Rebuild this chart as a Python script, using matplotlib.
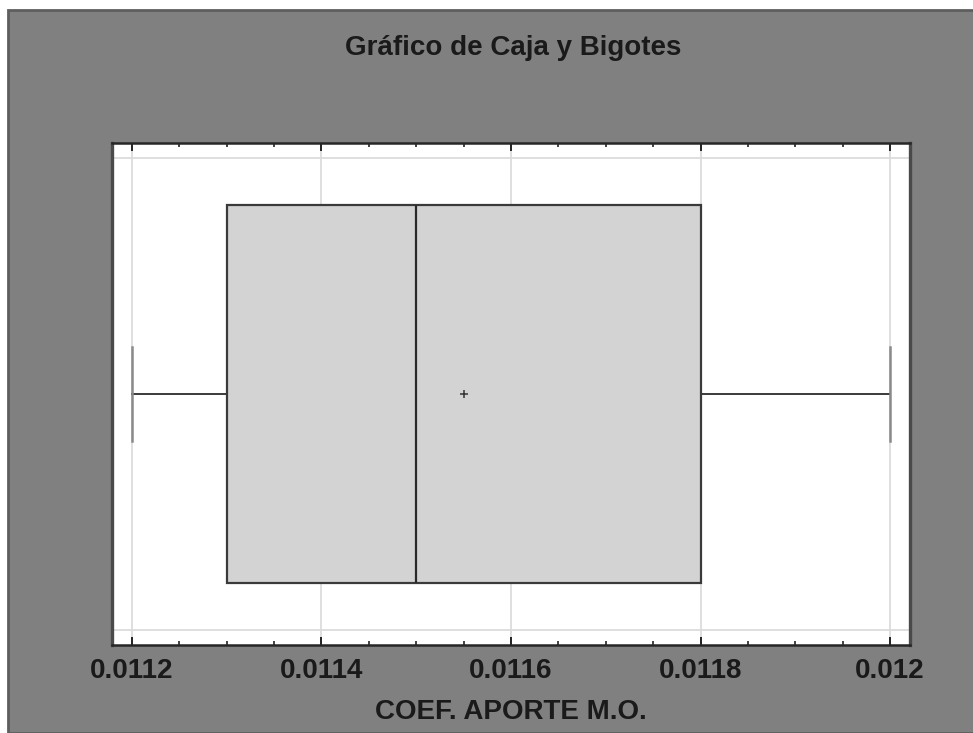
import matplotlib
matplotlib.use("Agg")
import matplotlib.pyplot as plt
from matplotlib.patches import Rectangle
from matplotlib.ticker import MultipleLocator, FixedLocator

# ---- data ----
variable_label = "COEF. APORTE M.O."
title = "Gráfico de Caja y Bigotes"
whisker_low = 0.0112
q1 = 0.0113
median = 0.0115
mean = 0.01155
q3 = 0.0118
whisker_high = 0.0120
tick_values = [0.0112, 0.0114, 0.0116, 0.0118, 0.0120]
tick_labels = ["0.0112", "0.0114", "0.0116", "0.0118", "0.012"]

plt.rcParams['font.family'] = ['Liberation Sans', 'DejaVu Sans']

fig = plt.figure(figsize=(9.73, 7.33), dpi=100)
fig.patch.set_facecolor("white")
bg = Rectangle((8/973, 0), 1.0, 1 - 10/733, transform=fig.transFigure,
               facecolor="#808080", edgecolor="#5e5e5e", linewidth=2.0, zorder=-10)
fig.patches.append(bg)

ax = fig.add_axes([112/973, 88/733, 798/973, 502/733])
ax.set_zorder(5)
ax.set_facecolor("white")

stats = [dict(whislo=whisker_low, q1=q1, med=median, q3=q3, whishi=whisker_high,
              mean=mean, fliers=[])]
ax.bxp(stats, positions=[0.5], widths=[0.753], orientation='horizontal',
       showmeans=True, patch_artist=True, capwidths=[0.188],
       boxprops=dict(facecolor="#d3d3d3", edgecolor="#3a3a3a", linewidth=1.6),
       medianprops=dict(color="#2a2a2a", linewidth=1.6),
       whiskerprops=dict(color="#3a3a3a", linewidth=1.4),
       capprops=dict(color="#8a8a8a", linewidth=1.8),
       meanprops=dict(marker="+", markeredgecolor="#333333", markersize=6,
                      markeredgewidth=1.1))

ax.set_xlim(0.011179, 0.012021)
ax.set_ylim(0, 1)
ax.xaxis.set_major_locator(FixedLocator(tick_values))
ax.set_xticklabels(tick_labels, fontsize=20, fontweight="bold", color="#1a1a1a")
ax.xaxis.set_minor_locator(MultipleLocator(0.00005))
ax.set_yticks([0.03, 0.97])
ax.set_yticklabels([])
ax.tick_params(axis="y", length=0)
ax.tick_params(axis="x", which="major", direction="in", top=True, bottom=True,
               length=6, width=1.4, color="#222222", pad=9)
ax.tick_params(axis="x", which="minor", direction="in", top=True, bottom=True,
               length=3, width=1.2, color="#222222")
ax.set_axisbelow(True)
ax.grid(True, which="major", color="#d9d9d9", linewidth=1.2)

for side, sp in ax.spines.items():
    sp.set_color("#262626")
    sp.set_linewidth(1.8)
ax.spines["left"].set_color("#4a4a4a")
ax.spines["right"].set_color("#4a4a4a")
ax.spines["left"].set_linewidth(2.4)
ax.spines["right"].set_linewidth(2.4)

fig.text(0.5 * (343 + 684) / 973, 1 - 48/733, title, ha="center", va="center",
         fontsize=20, fontweight="bold", color="#1a1a1a", zorder=10)
ax.set_xlabel(variable_label, fontsize=20, fontweight="bold", color="#1a1a1a",
              labelpad=11)

fig.savefig("out.png", dpi=100)
